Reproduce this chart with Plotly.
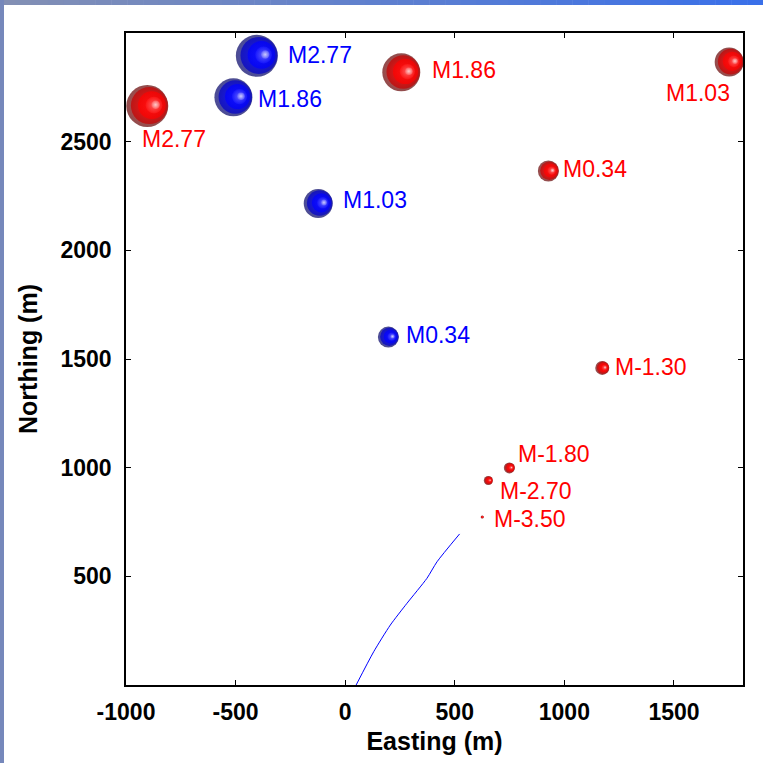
import numpy as np
import plotly.graph_objects as go

# Event locations (m) and magnitudes, two event groups
red_easting = [-903, 256, 1752, 927, 1173, 749, 653, 625]
red_northing = [2664, 2819, 2867, 2365, 1459, 999, 941, 773]
red_magnitude = [2.77, 1.86, 1.03, 0.34, -1.30, -1.80, -2.70, -3.50]

blue_easting = [-403, -510, -123, 197]
blue_northing = [2895, 2704, 2216, 1601]
blue_magnitude = [2.77, 1.86, 1.03, 0.34]

# Well trajectory in plan view (m)
well_easting = [50, 130, 206, 282, 373, 419, 522]
well_northing = [0, 153, 276, 376, 491, 567, 695]

x_ticks = [-1000, -500, 0, 500, 1000, 1500]
x_tick_text = ["-1000", "-500", "0", "500", "1000", "1500"]
y_ticks = [500, 1000, 1500, 2000, 2500]
y_tick_text = ["500", "1000", "1500", "2000", "2500"]

# ---- figure geometry / styling ----
W, H = 763, 763
ML, MR, MT, MB = 126, 20, 33, 78
X_RANGE = [-1000, 1815]
Y_RANGE = [0, 3000]
px_per_x = (W - ML - MR) / (X_RANGE[1] - X_RANGE[0])
px_per_y = (H - MT - MB) / (Y_RANGE[1] - Y_RANGE[0])

# sphere diameter (px) as a function of magnitude
SIZE_MAG = [-3.5, -2.7, -1.8, -1.3, 0.34, 1.03, 1.86, 2.77]
SIZE_PX = [3, 9, 11, 14, 21, 29, 38, 42]

# label offsets in px (dx to text left edge, dy downward)
red_label_off = [(-6, 33), (30, -2), (-64, 31), (14, -2), (12, -1), (8, -14), (11, 11), (11, 2)]
blue_label_off = [(30, -1), (24, 2), (24, -3), (17, -2)]

FONT = "Liberation Sans, Arial, Helvetica, sans-serif"

# shading layers: (size fraction, x offset fraction, y offset fraction, edge, centre)
RED_LAYERS = [
    (1.00, 0.00, 0.00, "#600000", "#d40000"),
    (0.88, 0.05, 0.01, "#c40000", "#ff0000"),
    (0.66, 0.11, 0.02, "#ff0000", "#ff1010"),
    (0.40, 0.16, 0.02, "#ff1a1a", "#ff8080"),
    (0.20, 0.20, 0.03, "#ff6a6a", "#ffffff"),
]
BLUE_LAYERS = [
    (1.00, 0.00, 0.00, "#000060", "#0000d4"),
    (0.88, 0.05, 0.01, "#0000c4", "#0000ff"),
    (0.66, 0.11, 0.02, "#0000ff", "#1010ff"),
    (0.40, 0.16, 0.02, "#1a1aff", "#8080ff"),
    (0.20, 0.20, 0.03, "#6a6aff", "#ffffff"),
]


def sphere_traces(xs, ys, mags, layers):
    x = np.asarray(xs, float)
    y = np.asarray(ys, float)
    d = np.interp(mags, SIZE_MAG, SIZE_PX)
    out = []
    for frac, ox, oy, edge, centre in layers:
        out.append(go.Scatter(
            x=x + ox * d / px_per_x,
            y=y + oy * d / px_per_y,
            mode="markers",
            hoverinfo="skip",
            showlegend=False,
            marker=dict(size=d * frac, color=edge,
                        gradient=dict(type="radial", color=centre),
                        line=dict(width=0)),
        ))
    return out


fig = go.Figure()

fig.add_trace(go.Scatter(x=well_easting, y=well_northing, mode="lines",
                         line=dict(color="#0000ff", width=1, shape="spline", smoothing=0.6),
                         hoverinfo="skip", showlegend=False))

for t in sphere_traces(red_easting, red_northing, red_magnitude, RED_LAYERS):
    fig.add_trace(t)
for t in sphere_traces(blue_easting, blue_northing, blue_magnitude, BLUE_LAYERS):
    fig.add_trace(t)

annotations = []
for xs, ys, mags, offs, col in [
    (red_easting, red_northing, red_magnitude, red_label_off, "#ff0000"),
    (blue_easting, blue_northing, blue_magnitude, blue_label_off, "#0000ff"),
]:
    for x, y, m, (dx, dy) in zip(xs, ys, mags, offs):
        annotations.append(dict(
            x=x, y=y, xref="x", yref="y", text=f"M{m:.2f}",
            showarrow=False, xanchor="left", yanchor="middle",
            xshift=dx, yshift=-dy, borderpad=0,
            font=dict(family=FONT, size=23, color=col),
        ))

# window frame: gradient bar along the top, plain bar down the left side
def px_to_paper_x(px):
    return (px - ML) / (W - ML - MR)


def px_to_paper_y(py):
    return (H - MB - py) / (H - MT - MB)


shapes = []
c0 = np.array([0x84, 0x90, 0xb4])
c1 = np.array([0x3a, 0x70, 0xea])
n_seg = 48
for i in range(n_seg):
    t = (i + 0.5) / n_seg
    c = (c0 * (1 - t) + c1 * t).astype(int)
    shapes.append(dict(
        type="rect", xref="paper", yref="paper", layer="above",
        x0=px_to_paper_x(W * i / n_seg), x1=px_to_paper_x(W * (i + 1) / n_seg + 0.5),
        y0=px_to_paper_y(5), y1=px_to_paper_y(0),
        fillcolor=f"rgb({c[0]},{c[1]},{c[2]})", line=dict(width=0),
    ))
shapes.append(dict(
    type="rect", xref="paper", yref="paper", layer="above",
    x0=px_to_paper_x(0), x1=px_to_paper_x(4),
    y0=px_to_paper_y(H), y1=px_to_paper_y(0),
    fillcolor="#7688bb", line=dict(width=0),
))

axis_common = dict(
    showgrid=False, zeroline=False, showline=True, linecolor="black",
    linewidth=1.6, mirror="ticks", ticks="inside", ticklen=5, tickwidth=1.2,
    tickcolor="black",
    tickfont=dict(family=FONT, size=23, color="black", weight="bold"),
)

fig.update_layout(
    width=W, height=H, autosize=False,
    margin=dict(l=ML, r=MR, t=MT, b=MB, pad=0),
    paper_bgcolor="white", plot_bgcolor="white",
    showlegend=False,
    xaxis=dict(range=X_RANGE, tickvals=x_ticks, ticktext=x_tick_text, ticklabelstandoff=6,
               title=dict(text="Easting (m)", standoff=8,
                          font=dict(family=FONT, size=25, color="black", weight="bold")),
               **axis_common),
    yaxis=dict(range=Y_RANGE, tickvals=y_ticks, ticktext=y_tick_text, ticklabelstandoff=8,
               title=dict(text="Northing (m)", standoff=16,
                          font=dict(family=FONT, size=25, color="black", weight="bold")),
               **axis_common),
    annotations=annotations,
    shapes=shapes,
)

fig.write_html("out.html")
